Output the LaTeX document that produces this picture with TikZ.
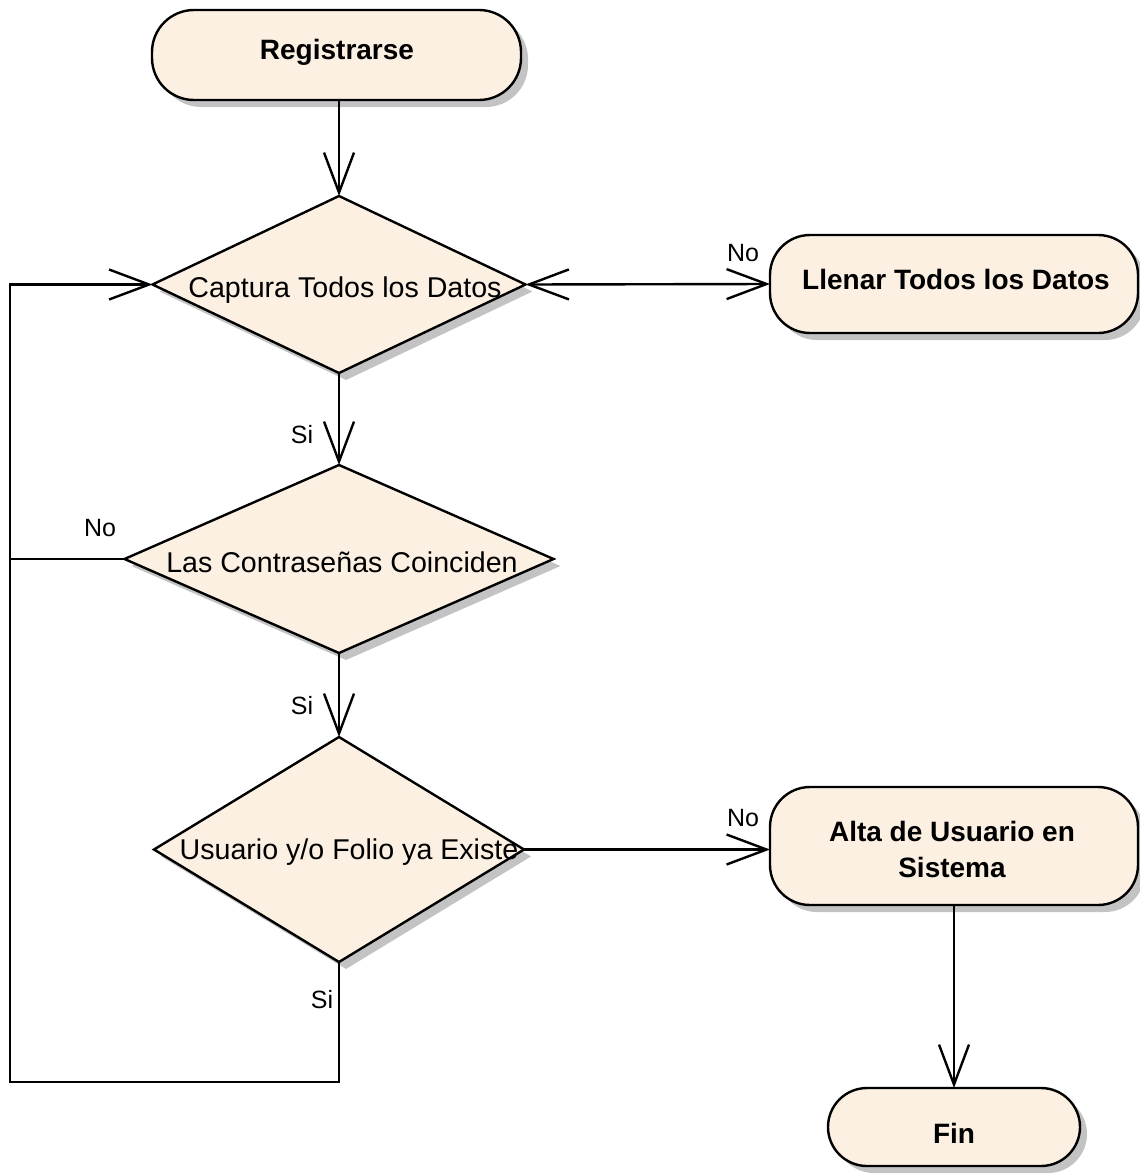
\documentclass[tikz,border=0pt]{standalone}
\usepackage{fontspec}
\setmainfont{Liberation Sans}
\usetikzlibrary{shapes.geometric,shadows,arrows.meta}
\definecolor{actfill}{RGB}{251,240,226}
\definecolor{shadowgray}{RGB}{195,195,195}
\begin{document}
\begin{tikzpicture}[x=1pt,y=-1pt,
  line width=2.4pt,
  >={Straight Barb[length=40pt,width=30pt]},
  shade/.style={drop shadow={shadow xshift=7pt,shadow yshift=-7pt,fill=shadowgray,opacity=1}},
  activity/.style={draw,fill=actfill,shade,rectangle,inner sep=0pt,outer sep=0pt},
  decision/.style={draw,fill=actfill,shade,diamond,inner sep=0pt,outer sep=0pt},
  boldtxt/.style={font=\fontsize{28}{36}\selectfont\bfseries,align=center,inner sep=0pt},
  plaintxt/.style={font=\fontsize{28.6}{34}\selectfont,inner sep=0pt},
  guard/.style={font=\fontsize{25}{30}\selectfont,inner sep=0pt},
  flow/.style={->}]
\useasboundingbox (0,0) rectangle (1140,1175);

% activities and decisions
\node[activity,rounded corners=42pt,minimum width=369pt,minimum height=90pt] (reg) at (336.5,55) {};
\node[boldtxt] (regtxt) at (337,52) {Registrarse};

\node[decision,minimum width=373pt,minimum height=177pt] (d1) at (339,284.5) {};
\node[plaintxt] (d1txt) at (345,290) {Captura Todos los Datos};

\node[activity,rounded corners=40pt,minimum width=368pt,minimum height=98pt] (llenar) at (954,284) {};
\node[boldtxt] (llenartxt) at (956,279) {Llenar Todos los Datos};

\node[decision,minimum width=429pt,minimum height=188pt] (d2) at (339,559) {};
\node[plaintxt] (d2txt) at (342,562) {Las Contraseñas Coinciden};

\node[decision,minimum width=370pt,minimum height=225pt] (d3) at (339,849.5) {};
\node[plaintxt] (d3txt) at (349,852) {Usuario y/o Folio ya Existe};

\node[activity,rounded corners=40pt,minimum width=368pt,minimum height=118pt] (alta) at (954,846) {};
\node[boldtxt] (altatxt) at (952,849) {Alta de Usuario en\\Sistema};

\node[activity,rounded corners=39pt,minimum width=252pt,minimum height=78pt] (fin) at (954,1127) {};
\node[boldtxt] (fintxt) at (954,1133) {Fin};

% corner of the return loop
\coordinate (loopbl) at (10,1082);

% connectors
\draw[flow] (reg.south -| d1.north) -- (d1.north);
\draw[<->] (d1.east) -- (llenar.west);
\draw[flow] (d1.south) -- (d2.north);
\draw[flow] (d2.south) -- (d3.north);
\draw[flow] (d3.east) -- (d3.east -| alta.west);
\draw[flow] (alta.south) -- (fin.north);
\draw[flow] (d3.south) |- (loopbl) |- (d1.west);
\draw (d2.west) -- (d2.west -| loopbl);

% guards
\node[guard] (g1) at (743,253) {No};
\node[guard] (g2) at (302,435) {Si};
\node[guard] (g3) at (100,528) {No};
\node[guard] (g4) at (302,706) {Si};
\node[guard] (g5) at (743,818) {No};
\node[guard] (g6) at (322,1000) {Si};
\end{tikzpicture}
\end{document}
